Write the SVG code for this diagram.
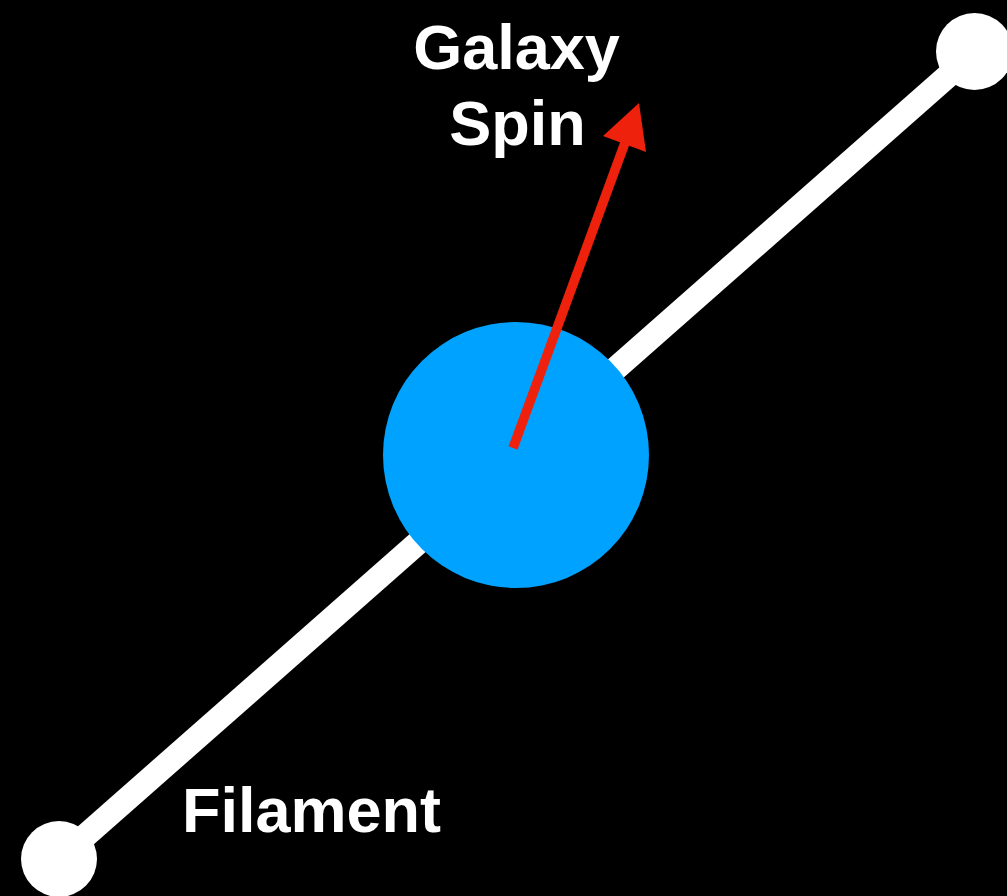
<svg xmlns="http://www.w3.org/2000/svg" width="1007" height="896" viewBox="0 0 1007 896">
<style>
.lbl{font-family:"Liberation Sans",Arial,sans-serif;font-weight:bold;font-size:63px;fill:#fff}
</style>
<rect width="1007" height="896" fill="#000"/>
<g id="filament">
<line x1="59" y1="859" x2="975" y2="52" stroke="#fff" stroke-width="24"/>
<circle cx="59" cy="859" r="38" fill="#fff"/>
<circle cx="974.5" cy="51.5" r="38.5" fill="#fff"/>
</g>
<g id="galaxy">
<circle cx="516" cy="455" r="133" fill="#00A2FF"/>
</g>
<g id="connectors">
<line x1="513" y1="448" x2="626" y2="140" stroke="#EE220C" stroke-width="9.5"/>
<polygon points="639,103 646,152 603,136" fill="#EE220C"/>
</g>
<g id="labels">
<text class="lbl" x="516.5" y="69" text-anchor="middle">Galaxy</text>
<text class="lbl" x="517.5" y="145" text-anchor="middle">Spin</text>
<text class="lbl" x="182" y="832">Filament</text>
</g>
</svg>
